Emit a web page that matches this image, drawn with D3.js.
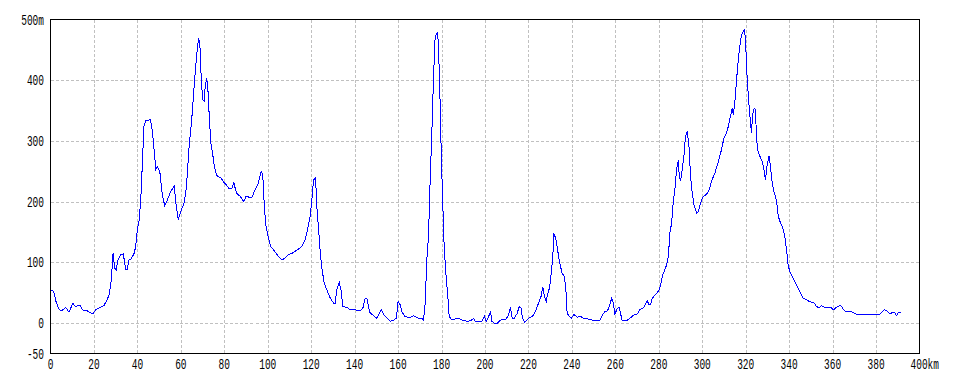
<!DOCTYPE html>
<html>
<head>
<meta charset="utf-8">
<script src="https://cdn.jsdelivr.net/npm/d3@7"></script>
<style>
  html, body { margin: 0; padding: 0; background: #fff; }
  svg { display: block; }
</style>
</head>
<body>
<div id="chart"></div>
<script>
// elevation profile, distance (km) vs height (m)
const distanceKm = [
  0, 1.5, 2.5, 4, 5.4, 7, 8.5, 10.3, 11.5, 13.5, 14.6, 17, 19.5, 20.8, 23, 24.6, 26, 27, 28, 28.8,
  29.5, 30.3, 31, 32.3, 33.5, 34.6, 35.4, 36, 37, 38.5, 39.2, 40, 40.8, 41.5, 42.3, 43, 43.8, 46, 47, 48.5,
  49.2, 50.3, 51.5, 52.6, 53.8, 55.4, 57, 57.7, 58.8, 60, 61.5, 62.6, 63.8, 65, 66, 67, 67.7, 68.2, 68.8, 69.2,
  70, 70.8, 71.2, 71.8, 72.3, 73, 73.8, 74.6, 75.4, 76.5, 78.5, 79.7, 80.8, 82.3, 83.4, 84.4, 85.6, 87.3, 89, 90,
  92.6, 94.2, 95.7, 97, 97.7, 98.5, 99.2, 100.3, 101.4, 102.6, 104.9, 106.5, 108, 109.5, 111.8, 113.7, 115.7, 117.2, 118.3, 119.5,
  120.3, 121.1, 122, 122.6, 123.4, 124.2, 125, 126, 127.2, 128.8, 130.3, 131, 131.8, 132.9, 133.7, 134.6, 136.5, 138, 140.3, 142.6,
  143.8, 144.9, 145.7, 146.9, 148.8, 150.3, 152.2, 153.4, 154.9, 156.5, 158, 159.2, 160, 161, 161.7, 163.2, 165.5, 167, 169.4, 170.9,
  171.7, 172.5, 173.2, 174, 174.8, 175.5, 176.3, 177, 177.5, 178.2, 178.6, 179.4, 179.8, 180.5, 181.2, 182.2, 182.8, 183.5, 184.8, 186.3,
  187.8, 189.4, 191.7, 193.5, 194.8, 195.5, 198.6, 199.7, 200.6, 201.7, 202.5, 203.2, 204.3, 205.8, 207, 209.8, 210.9, 211.7, 212.5, 213.5,
  214.8, 215.7, 216.6, 217.1, 218.2, 219.1, 220.2, 221.7, 222.8, 224, 225.2, 225.8, 226.6, 227.4, 228.2, 228.9, 229.7, 230.5, 231.2, 231.7,
  232.5, 233.2, 234, 234.8, 235.5, 236.6, 237.4, 237.8, 238.9, 239.7, 240.9, 242.5, 244, 245.5, 247, 249.4, 253, 254.2, 255.2, 256.3,
  257.2, 258.3, 259.1, 259.8, 260.6, 261.7, 262.5, 263.2, 265.2, 266.7, 268.3, 270.1, 271.3, 272.9, 273.6, 274.7, 275.5, 276.2, 277, 279,
  280.2, 281, 281.8, 282.8, 283.6, 284.4, 285.1, 285.9, 286.7, 287.4, 288.2, 289, 289.4, 290, 290.8, 291.6, 292.3, 293.1, 293.9, 294.6,
  295.4, 296.2, 297.4, 298.2, 299.2, 300.5, 302, 303.2, 304.3, 305.8, 307.4, 308.9, 310, 311.2, 312, 313, 313.8, 314.3, 315, 315.8,
  316.6, 317.3, 318.1, 318.9, 319.5, 320.1, 320.7, 321.5, 322.2, 322.7, 323.1, 323.9, 324.5, 325, 325.7, 326.5, 327.6, 328.4, 329.1, 329.9,
  330.7, 331.4, 332.2, 333, 334.2, 335, 335.7, 337, 338, 338.8, 339.5, 340.3, 341.8, 343.4, 344.9, 346.4, 347.9, 349.5, 351.3, 352.5,
  353.7, 354.8, 356.3, 357.9, 359.4, 360.5, 361.7, 363.2, 364, 365.5, 367.8, 369.3, 370.8, 372.4, 374.7, 375.7, 376.9, 378.5, 381.5, 382.7,
  383.8, 384.9, 386.4, 387.6, 388.4, 389.5, 390.4, 391.5
];
const elevationM = [
  55, 52, 36, 22, 21, 26, 18, 33, 27, 30, 22, 20, 15, 22, 26, 29, 38, 47, 71, 115,
  91, 88, 104, 113, 114, 89, 88, 104, 105, 115, 126, 154, 170, 200, 264, 324, 333, 335, 313, 253,
  258, 250, 211, 193, 203, 217, 226, 198, 170, 184, 198, 225, 291, 335, 385, 429, 456, 470, 456, 418,
  368, 366, 390, 401, 396, 346, 297, 280, 258, 243, 239, 232, 228, 221, 221, 231, 214, 209, 200, 209,
  206, 220, 231, 250, 245, 187, 159, 140, 126, 121, 110, 104, 107, 113, 116, 121, 126, 137, 154, 176,
  203, 236, 239, 192, 154, 115, 88, 66, 55, 41, 33, 33, 55, 67, 55, 27, 26, 22, 22, 20,
  25, 41, 40, 18, 12, 8, 22, 14, 8, 3, 5, 8, 36, 30, 19, 11, 9, 12, 8, 8,
  5, 33, 104, 143, 242, 310, 404, 467, 475, 478, 456, 357, 288, 203, 126, 71, 49, 11, 5, 7,
  8, 5, 3, 4, 8, 3, 3, 11, 3, 11, 19, 3, 0, 0, 5, 7, 14, 26, 8, 8,
  16, 27, 25, 11, 1, 4, 8, 11, 16, 27, 38, 44, 59, 44, 36, 49, 58, 82, 110, 148,
  140, 126, 107, 93, 82, 77, 47, 16, 11, 8, 14, 10, 11, 8, 7, 5, 5, 14, 19, 20,
  27, 41, 33, 14, 22, 27, 14, 4, 4, 8, 13, 15, 22, 25, 30, 37, 30, 30, 41, 49,
  55, 66, 80, 88, 96, 110, 148, 165, 201, 220, 253, 269, 242, 234, 253, 277, 308, 316, 291, 242,
  214, 195, 181, 184, 198, 209, 212, 220, 234, 247, 266, 286, 305, 313, 324, 341, 354, 343, 363, 401,
  434, 456, 475, 481, 484, 451, 401, 360, 330, 313, 343, 354, 352, 302, 283, 275, 266, 253, 236, 261,
  275, 258, 231, 217, 201, 176, 168, 157, 143, 121, 96, 85, 74, 63, 52, 41, 39, 35, 34, 28,
  25, 29, 26, 26, 25, 22, 26, 29, 28, 20, 19, 18, 15, 14, 15, 14, 15, 14, 14, 18,
  22, 20, 15, 18, 18, 12, 18, 18
];

const xTickValues = [0, 20, 40, 60, 80, 100, 120, 140, 160, 180, 200, 220, 240, 260, 280, 300, 320, 340, 360, 380, 400];
const xTickLabels = ["0", "20", "40", "60", "80", "100", "120", "140", "160", "180", "200", "220", "240", "260", "280", "300", "320", "340", "360", "380", "400km"];
const yTickValues = [-50, 0, 100, 200, 300, 400, 500];
const yTickLabels = ["-50", "0", "100", "200", "300", "400", "500m"];

const width = 960, height = 384;
const plotLeft = 50.5, plotRight = 919.5, plotTop = 19.5, plotBottom = 353.5;

const svg = d3.select("#chart").append("svg")
  .attr("width", width)
  .attr("height", height);

const x = d3.scaleLinear().domain([0, 400]).range([plotLeft, plotRight]);
const y = d3.scaleLinear().domain([-50, 500]).range([plotBottom, plotTop]);

// grid lines (dashed grey), skip the frame edges
const gridG = svg.append("g")
  .attr("stroke", "#c0c0c0")
  .attr("stroke-dasharray", "3,2")
  .attr("shape-rendering", "crispEdges");

gridG.selectAll("line.vx")
  .data(xTickValues.filter(v => v > 0 && v < 400))
  .join("line")
  .attr("class", "vx")
  .attr("x1", d => Math.round(x(d)) + 0.5)
  .attr("x2", d => Math.round(x(d)) + 0.5)
  .attr("y1", plotTop)
  .attr("y2", plotBottom);

gridG.selectAll("line.hy")
  .data(yTickValues.filter(v => v > -50 && v < 500))
  .join("line")
  .attr("class", "hy")
  .attr("x1", plotLeft)
  .attr("x2", plotRight)
  .attr("y1", d => Math.round(y(d)) + 0.5)
  .attr("y2", d => Math.round(y(d)) + 0.5);

// elevation line
const line = d3.line()
  .x((d, i) => x(distanceKm[i]))
  .y(d => y(d));

svg.append("path")
  .datum(elevationM)
  .attr("fill", "none")
  .attr("stroke", "#0000ff")
  .attr("stroke-width", 1)
  .attr("shape-rendering", "crispEdges")
  .attr("d", line);

// frame
svg.append("rect")
  .attr("x", plotLeft)
  .attr("y", plotTop)
  .attr("width", plotRight - plotLeft)
  .attr("height", plotBottom - plotTop)
  .attr("fill", "none")
  .attr("stroke", "#000")
  .attr("stroke-width", 1)
  .attr("shape-rendering", "crispEdges");

// labels: narrow tall monospace look
const fontFamily = "'Liberation Mono', 'DejaVu Sans Mono', monospace";

svg.append("g")
  .selectAll("text")
  .data(yTickValues)
  .join("text")
  .attr("transform", d => `translate(44, ${y(d) + 5}) scale(0.95, 1.45)`)
  .attr("text-anchor", "end")
  .attr("font-family", fontFamily)
  .attr("font-size", "10px")
  .attr("fill", "#000")
  .text((d, i) => yTickLabels[i]);

svg.append("g")
  .selectAll("text")
  .data(xTickValues)
  .join("text")
  .attr("transform", (d, i) => {
    const px = i === xTickValues.length - 1 ? x(d) - 9 : x(d);
    return `translate(${px}, 369) scale(0.95, 1.45)`;
  })
  .attr("text-anchor", (d, i) => i === xTickValues.length - 1 ? "start" : "middle")
  .attr("font-family", fontFamily)
  .attr("font-size", "10px")
  .attr("fill", "#000")
  .text((d, i) => xTickLabels[i]);
</script>
</body>
</html>
